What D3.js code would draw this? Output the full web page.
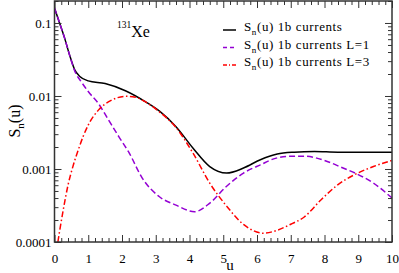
<!DOCTYPE html>
<html><head><meta charset="utf-8">
<script src="https://cdn.jsdelivr.net/npm/d3@7"></script>
<style>body{margin:0;background:#fff}svg{display:block}</style>
</head><body>
<svg id="c" width="399" height="273" font-family="Liberation Serif"></svg>
<script>
// ---- data ----
const uTotal   = [0,0.15,0.3,0.45,0.6,0.75,1.0,1.5,2.1,2.7,3.13,3.6,4.1,4.6,5.1,5.6,6.1,6.6,7.1,7.7,8.4,9.4,10];
const sTotal   = [0.16,0.1,0.062,0.036,0.0228,0.0185,0.0161,0.0148,0.0118,0.0083,0.0061,0.0038,0.00194,0.00108,0.00088,0.00103,0.00134,0.0016,0.0017,0.00174,0.0017,0.0017,0.0017];
const uL1      = [0,0.15,0.3,0.45,0.6,0.8,1.0,1.3,1.6,1.9,2.2,2.6,3.1,3.6,4.15,4.6,5.1,5.6,6.1,6.6,7.1,7.4,8.0,8.55,8.95,9.45,10];
const sL1      = [0.16,0.1,0.062,0.036,0.022,0.0155,0.0115,0.0079,0.0047,0.0028,0.0017,0.00075,0.00042,0.00032,0.00026,0.00034,0.00058,0.00088,0.00114,0.00142,0.0015,0.0015,0.00131,0.00103,0.00086,0.00064,0.0004];
const uL3      = [0.1,0.15,0.25,0.4,0.55,0.7,0.85,1.0,1.3,1.7,2.1,2.4,2.7,3.1,3.6,4.1,4.6,5.1,5.6,6.2,6.6,7.0,7.4,7.9,8.4,8.9,9.45,10];
const sL3      = [0.0001,0.00014,0.00026,0.0006,0.0011,0.0018,0.0028,0.004,0.0064,0.0088,0.0099,0.0096,0.0083,0.0061,0.0037,0.00166,0.00064,0.00031,0.000174,0.000132,0.000145,0.000175,0.00022,0.00038,0.00061,0.00084,0.00108,0.00131];
const xTicks   = [0,1,2,3,4,5,6,7,8,9,10];
const xTickLabels = ["0","1","2","3","4","5","6","7","8","9","10"];
const yTicks   = [0.0001,0.001,0.01,0.1];
const yTickLabels = ["0.0001","0.001","0.01","0.1"];
const legendLabels = ["(u) 1b currents","(u) 1b currents L=1","(u) 1b currents L=3"];

// ---- layout ----
const FF = "Liberation Serif";
const svg = d3.select("#c");
const L=54.5, R=392, T=1, B=242;
const x = d3.scaleLinear().domain([0,10]).range([L,R]);
const y = d3.scaleLog().domain([0.0001,0.2]).range([B,T]);

const series = [
  {u:uTotal, s:sTotal, color:"#000000", dash:null, w:1.5},
  {u:uL1, s:sL1, color:"#9400d3", dash:"6,3", w:1.5},
  {u:uL3, s:sL3, color:"#ff0000", dash:"6,2.5,1.5,2.5", w:1.5}
];

svg.append("clipPath").attr("id","clip").append("rect")
  .attr("x",L).attr("y",T).attr("width",R-L).attr("height",B-T);

const line = d3.line().x(d=>x(d[0])).y(d=>y(d[1])).curve(d3.curveMonotoneX);
const g = svg.append("g").attr("clip-path","url(#clip)");
series.forEach(sr=>{
  g.append("path").datum(sr.u.map((u,i)=>[u,sr.s[i]]))
    .attr("d",line).attr("fill","none").attr("stroke",sr.color)
    .attr("stroke-width",sr.w).attr("stroke-dasharray",sr.dash);
});

// ---- axes ----
const xMinor = d3.range(0,10.001,0.2).filter(v=>Math.abs(v-Math.round(v))>1e-6);
const yMinor = [];
[0.0001,0.001,0.01,0.1].forEach(d=>{for(let k=2;k<=9;k++){const v=d*k; if(v<=0.2+1e-9) yMinor.push(v);}});
const axCol="#333", MJ=7, MN=4;

function addAxis(axisFn, scale, tr, ticks, len, labels){
  const a = axisFn(scale).tickValues(ticks).tickSizeInner(len).tickSizeOuter(0)
    .tickFormat(labels? (d,i)=>labels[i] : "");
  const gg = svg.append("g").attr("transform",tr).call(a)
    .attr("font-family",FF).attr("font-size",13);
  gg.select(".domain").remove();
  gg.selectAll("line").attr("stroke",axCol).attr("stroke-width",1);
  gg.selectAll("text").attr("fill","#000").attr("font-family",FF);
  return gg;
}
// bottom
const gb = addAxis(d3.axisTop, x, `translate(0,${B})`, xTicks, MJ, xTickLabels);
gb.selectAll("text").attr("y",21).attr("dy",null);
addAxis(d3.axisTop, x, `translate(0,${B})`, xMinor, MN, null);
// top
addAxis(d3.axisBottom, x, `translate(0,${T})`, xTicks, MJ, null);
addAxis(d3.axisBottom, x, `translate(0,${T})`, xMinor, MN, null);
// left
const gl = addAxis(d3.axisRight, y, `translate(${L},0)`, yTicks, MJ, yTickLabels);
gl.selectAll("text").attr("x",-3).attr("text-anchor","end");
addAxis(d3.axisRight, y, `translate(${L},0)`, yMinor, MN, null);
// right
addAxis(d3.axisLeft, y, `translate(${R},0)`, yTicks, MJ, null);
addAxis(d3.axisLeft, y, `translate(${R},0)`, yMinor, MN, null);

// frame
svg.append("rect").attr("x",L).attr("y",T).attr("width",R-L).attr("height",B-T)
  .attr("fill","none").attr("stroke",axCol).attr("stroke-width",1.5);

// axis titles
svg.append("text").attr("x",230).attr("y",270).attr("text-anchor","middle")
  .attr("font-family",FF).attr("font-size",15).text("u");
const yl = svg.append("text").attr("transform","translate(20,121) rotate(-90)")
  .attr("text-anchor","middle").attr("font-family",FF).attr("font-size",16);
yl.append("tspan").text("S");
yl.append("tspan").attr("font-size",11).attr("dy",4).text("n");
yl.append("tspan").attr("dy",-4).text("(u)");

// nucleus label
const nl = svg.append("text").attr("x",117).attr("y",36.5).attr("font-family",FF).attr("font-size",16);
nl.append("tspan").attr("font-size",9.5).attr("dy",-9).text("131");
nl.append("tspan").attr("dy",9).text("Xe");

// legend
const legY=[30,47.5,65];
series.forEach((sr,i)=>{
  svg.append("line").attr("x1",223).attr("x2",236).attr("y1",legY[i]).attr("y2",legY[i])
    .attr("stroke",sr.color).attr("stroke-width",1.5).attr("stroke-dasharray",sr.dash? (i==1?"4,3":"4,2,1,2"):null);
  const t = svg.append("text").attr("x",244).attr("y",legY[i]+1).attr("font-family",FF)
    .attr("font-size",13).attr("letter-spacing",0.6);
  t.append("tspan").text("S");
  t.append("tspan").attr("font-size",9).attr("dy",4).text("n");
  t.append("tspan").attr("dy",-4).text(legendLabels[i]);
});
</script>
</body></html>
